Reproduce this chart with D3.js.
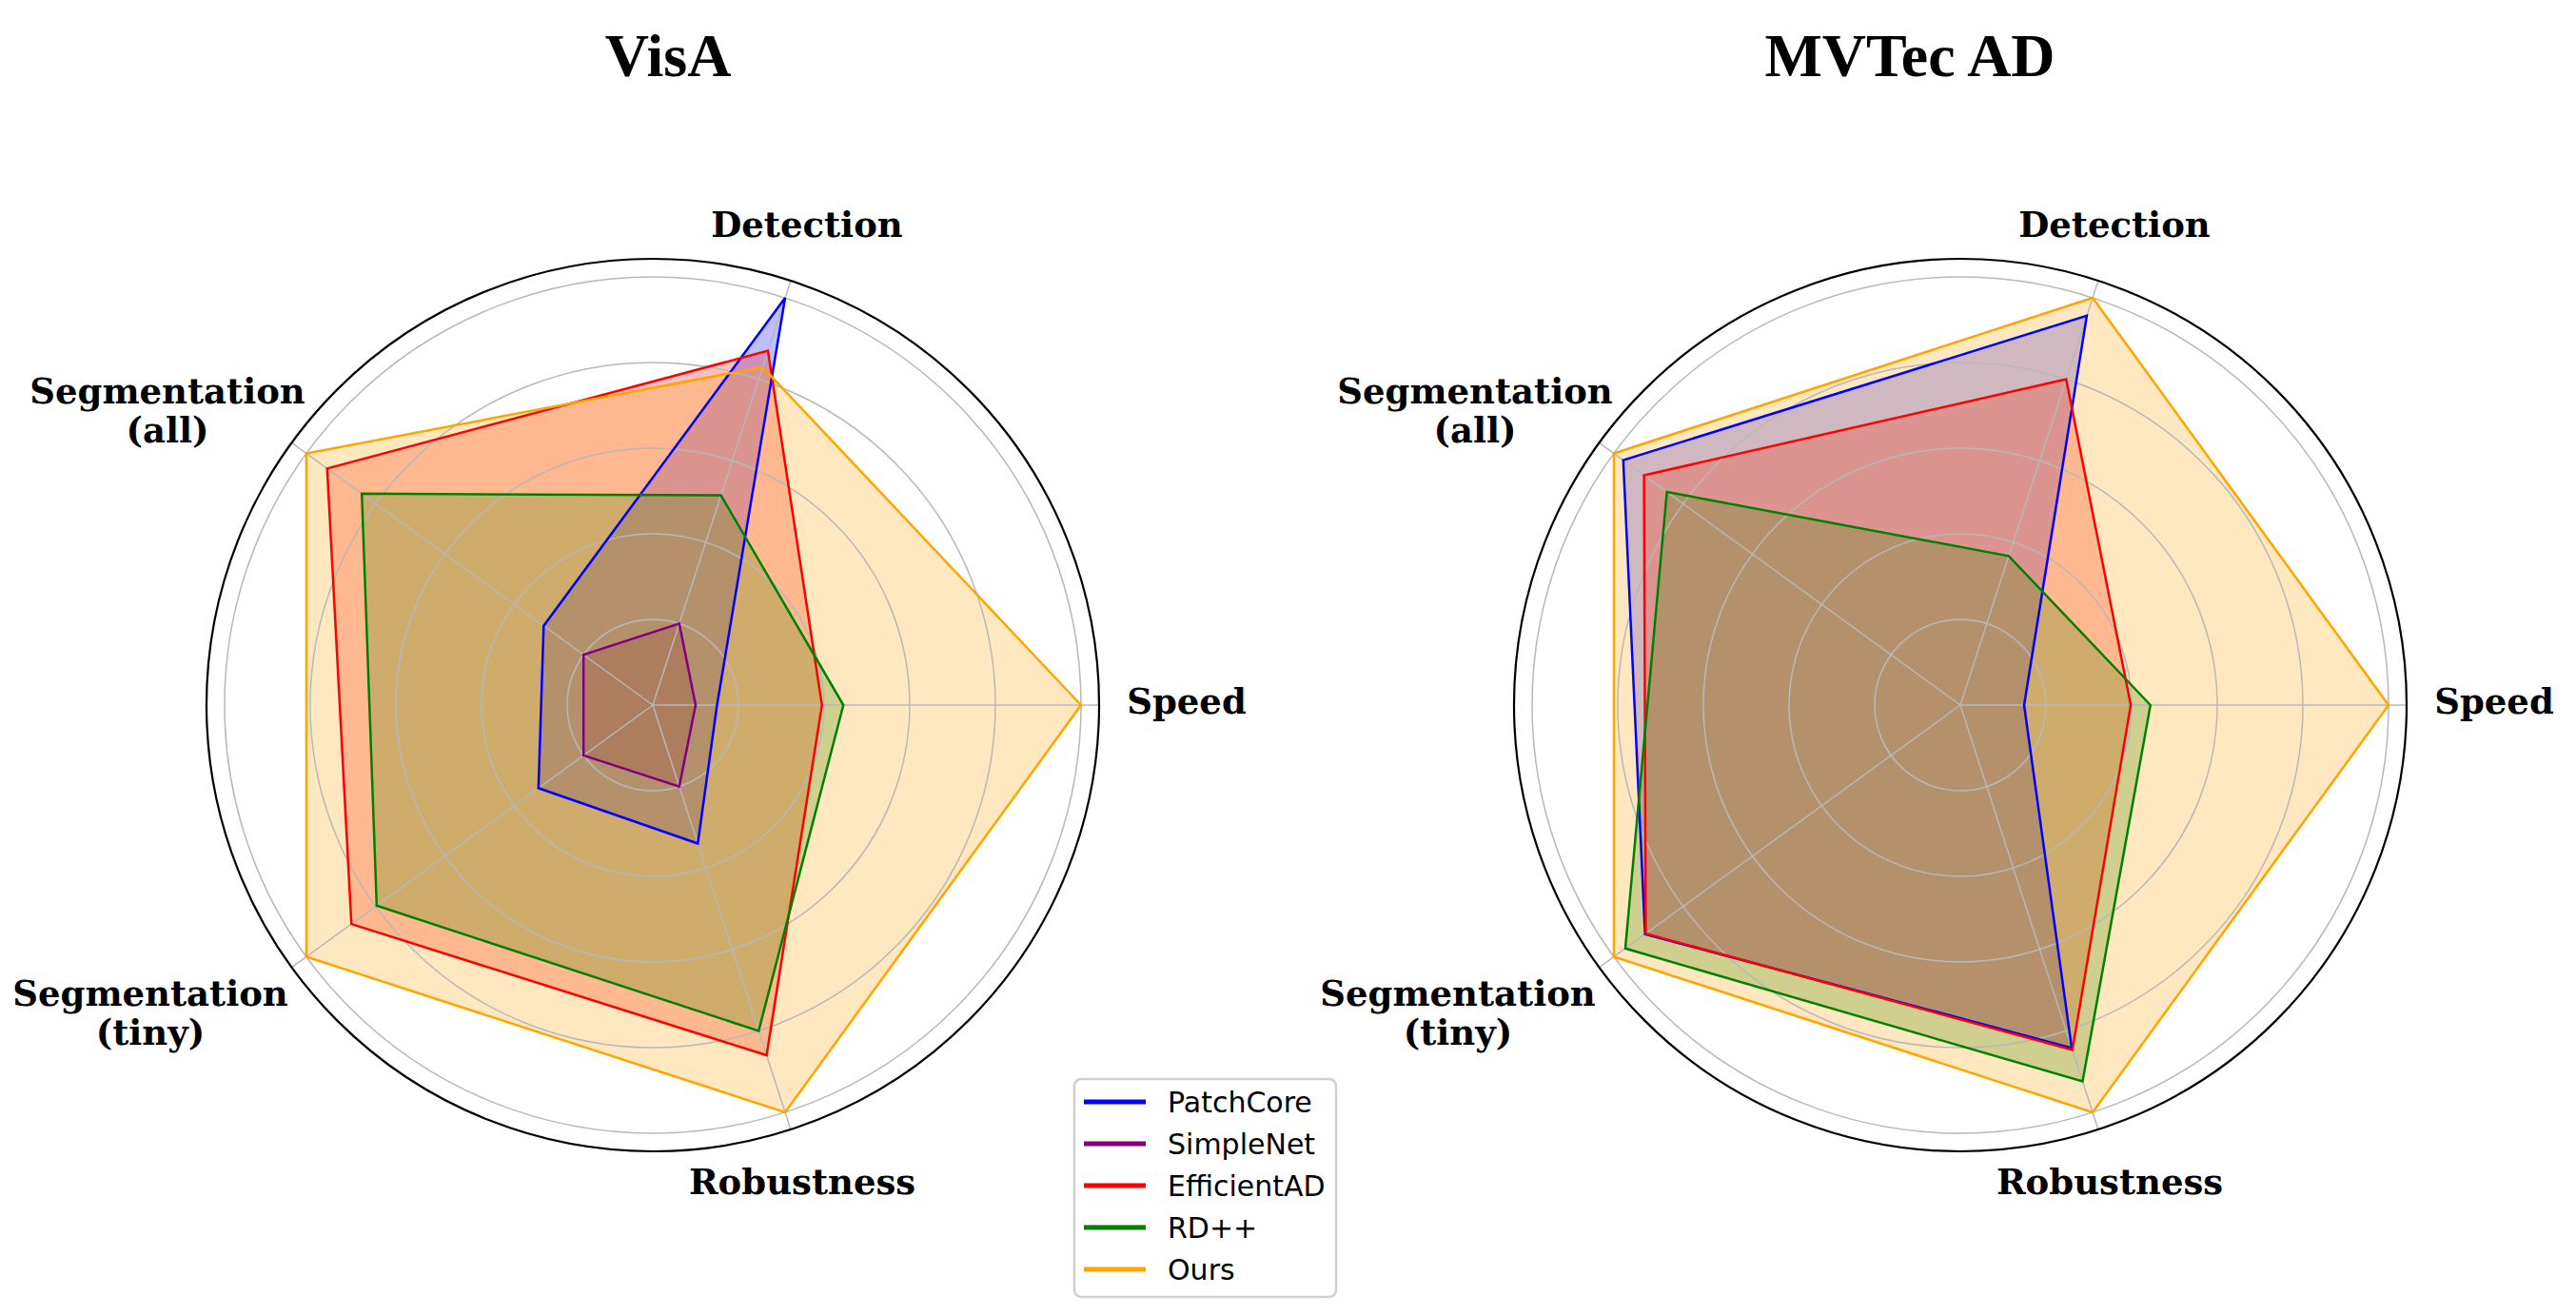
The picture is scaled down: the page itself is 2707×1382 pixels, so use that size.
<!DOCTYPE html>
<html>
<head>
<meta charset="utf-8">
<script src="https://cdn.jsdelivr.net/npm/d3@7/dist/d3.min.js"></script>
<style>
  html, body { margin: 0; padding: 0; background: #fff; }
  .axis-label { font-family: "DejaVu Serif", serif; font-weight: bold; font-size: 37px; }
  .panel-title { font-family: "Liberation Serif", "Times New Roman", serif; font-weight: bold; font-size: 64px; }
  .legend text { font-family: "DejaVu Sans", sans-serif; font-size: 30px; }
</style>
</head>
<body>
<svg id="chart"></svg>
<script>
// ---- data ----
var categories = ["Speed", "Detection", "Segmentation\n(all)", "Segmentation\n(tiny)", "Robustness"];
var methods = ["PatchCore", "SimpleNet", "EfficientAD", "RD++", "Ours"];
var methodColors = ["blue", "purple", "red", "green", "orange"];
var ringTicks = [0.2, 0.4, 0.6, 0.8, 1.0];

// one row per method, columns follow categories
var visaValues = [
  [0.15, 1.00, 0.315, 0.33, 0.34],
  [0.10, 0.20, 0.20, 0.20, 0.20],
  [0.395, 0.87, 0.94, 0.87, 0.86],
  [0.445, 0.515, 0.84, 0.797, 0.80],
  [1.00, 0.83, 1.00, 1.00, 1.00]
];
var mvtecValues = [
  [0.149, 0.956, 0.973, 0.91, 0.842],
  null, // SimpleNet not shown on MVTec AD
  [0.398, 0.80, 0.913, 0.908, 0.847],
  [0.444, 0.366, 0.847, 0.967, 0.924],
  [1.00, 1.00, 1.00, 1.00, 1.00]
];
var titles = ["VisA", "MVTec AD"];

// ---- layout ----
var W = 2707, H = 1382;
var cy = 741;
var centersX = [686, 2060];
var titleX = [702, 2007];
var titleBaseline = 80;
var gridRadius = 450;           // radius of value 1.0
var spineRadius = 469;
var rMax = spineRadius / gridRadius;
// label anchor offsets from panel center: [dx, baseline dy of first line]
var labelOffsets = [[561, 9], [162, -492], [-510, -317], [-528, 316], [157, 514]];
var lineGap = 41;

var svg = d3.select("#chart").attr("width", W).attr("height", H);
svg.append("rect").attr("width", W).attr("height", H).attr("fill", "#fff");

var r = d3.scaleLinear().domain([0, rMax]).range([0, spineRadius]);
var n = categories.length;
var theta = function(i) { return 2 * Math.PI * i / n; };  // 0 = right, counter-clockwise

// d3 radial angle is measured clockwise from 12 o'clock
var radialLine = d3.lineRadial()
  .angle(function(d, i) { return Math.PI / 2 - theta(i); })
  .radius(function(d) { return r(d); })
  .curve(d3.curveLinearClosed);

titles.forEach(function(title, p) {
  var values = p === 0 ? visaValues : mvtecValues;
  var g = svg.append("g").attr("transform", "translate(" + centersX[p] + "," + cy + ")");

  // fills
  values.forEach(function(vals, m) {
    if (!vals) return;
    g.append("path")
      .attr("d", radialLine(vals))
      .attr("fill", methodColors[m])
      .attr("fill-opacity", 0.25)
      .attr("stroke", "none");
  });

  // grid
  var grid = g.append("g").attr("class", "grid");
  grid.selectAll("circle").data(ringTicks).enter().append("circle")
    .attr("r", function(d) { return r(d); })
    .attr("fill", "none")
    .attr("stroke", "#b8b8b8")
    .attr("stroke-width", 1.5);
  grid.selectAll("line").data(categories).enter().append("line")
    .attr("x1", 0).attr("y1", 0)
    .attr("x2", function(d, i) { return r(rMax) * Math.cos(theta(i)); })
    .attr("y2", function(d, i) { return -r(rMax) * Math.sin(theta(i)); })
    .attr("stroke", "#b8b8b8")
    .attr("stroke-width", 1.5);

  // outlines
  values.forEach(function(vals, m) {
    if (!vals) return;
    g.append("path")
      .attr("d", radialLine(vals))
      .attr("fill", "none")
      .attr("stroke", methodColors[m])
      .attr("stroke-width", 2.5)
      .attr("stroke-linejoin", "miter");
  });

  // spine
  g.append("circle")
    .attr("r", r(rMax))
    .attr("fill", "none")
    .attr("stroke", "#000")
    .attr("stroke-width", 2.2);

  // axis labels
  categories.forEach(function(c, i) {
    var t = g.append("text")
      .attr("class", "axis-label")
      .attr("text-anchor", "middle")
      .attr("x", labelOffsets[i][0])
      .attr("y", labelOffsets[i][1]);
    c.split("\n").forEach(function(line, k) {
      t.append("tspan")
        .attr("x", labelOffsets[i][0])
        .attr("y", labelOffsets[i][1] + k * lineGap)
        .text(line);
    });
  });

  svg.append("text")
    .attr("class", "panel-title")
    .attr("text-anchor", "middle")
    .attr("x", titleX[p])
    .attr("y", titleBaseline)
    .text(title);
});

// legend
var legend = svg.append("g").attr("class", "legend").attr("transform", "translate(1129,1134)");
legend.append("rect")
  .attr("width", 275).attr("height", 229)
  .attr("rx", 7).attr("ry", 7)
  .attr("fill", "#fff").attr("fill-opacity", 0.8)
  .attr("stroke", "#d0d0d0").attr("stroke-width", 2.5);
var item = legend.selectAll("g.item").data(methods).enter().append("g")
  .attr("class", "item")
  .attr("transform", function(d, i) { return "translate(0," + (24 + i * 44) + ")"; });
item.append("line")
  .attr("x1", 10).attr("x2", 75)
  .attr("stroke", function(d, i) { return methodColors[i]; })
  .attr("stroke-width", 5);
item.append("text")
  .attr("x", 98).attr("y", 11)
  .text(function(d) { return d; });
</script>
</body>
</html>
